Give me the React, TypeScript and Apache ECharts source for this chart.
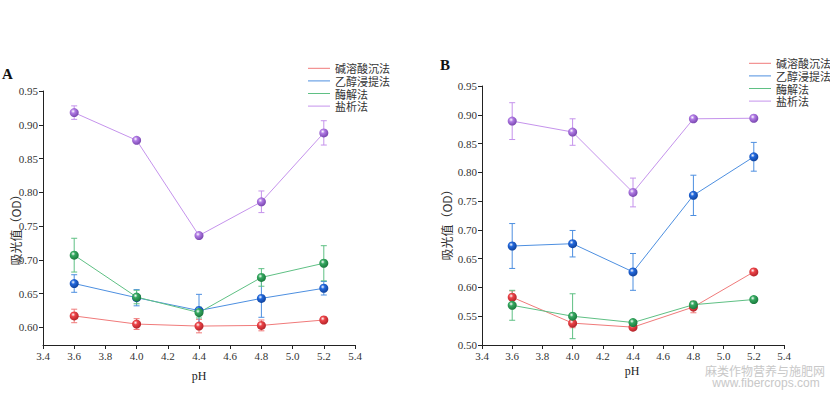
import React, { useEffect, useRef } from "react";
import * as echarts from "echarts";

const phValues = [3.6, 4.0, 4.4, 4.8, 5.2];
const seriesNames = ["碱溶酸沉法", "乙醇浸提法", "酶解法", "盐析法"];
const yTicksA = [0.6, 0.65, 0.7, 0.75, 0.8, 0.85, 0.9, 0.95];
const yTicksB = [0.5, 0.55, 0.6, 0.65, 0.7, 0.75, 0.8, 0.85, 0.9, 0.95];

// Panel A
const aAlkali = [0.617, 0.605, 0.602, 0.603, 0.611];
const aAlkaliErr = [0.01, 0.008, 0.01, 0.008, 0.004];
const aEthanol = [0.665, 0.644, 0.625, 0.643, 0.658];
const aEthanolErr = [0.013, 0.012, 0.024, 0.028, 0.01];
const aEnzyme = [0.707, 0.645, 0.622, 0.674, 0.695];
const aEnzymeErr = [0.025, 0.01, 0.008, 0.013, 0.026];
const aSalt = [0.918, 0.877, 0.736, 0.786, 0.888];
const aSaltErr = [0.01, 0.003, 0.003, 0.016, 0.018];

// Panel B
const bAlkali = [0.583, 0.538, 0.531, 0.566, 0.627];
const bAlkaliErr = [0.011, 0.008, 0.004, 0.01, 0.003];
const bEthanol = [0.672, 0.676, 0.627, 0.76, 0.827];
const bEthanolErr = [0.039, 0.023, 0.032, 0.035, 0.025];
const bEnzyme = [0.569, 0.55, 0.539, 0.57, 0.579];
const bEnzymeErr = [0.026, 0.039, 0.003, 0.005, 0.005];
const bSalt = [0.889, 0.87, 0.765, 0.893, 0.894];
const bSaltErr = [0.032, 0.023, 0.025, 0.002, 0.002];

const markerColors = ["#ec4448", "#2268dc", "#35a860", "#b07ae4"];
const darkColors = ["#b5242a", "#11449e", "#1c7a3e", "#7a48b0"];
const lineColors = ["#f07a7a", "#4d8fe0", "#5fc084", "#c593ec"];

const FONT = "'Liberation Serif', 'Times New Roman', serif";
const CJK = "'Noto Sans CJK SC', sans-serif";

function sphere(i: number) {
  return {
    type: "radial",
    x: 0.38,
    y: 0.35,
    r: 0.65,
    colorStops: [
      { offset: 0, color: "#ffffff" },
      { offset: 0.35, color: markerColors[i] },
      { offset: 1, color: darkColors[i] },
    ],
  };
}

export default function App() {
  const ref = useRef<HTMLDivElement>(null);
  useEffect(() => {
    if (!ref.current) return;
    const chart = echarts.init(ref.current, null, { renderer: "svg" });
    const panels = [
      { vals: [aAlkali, aEthanol, aEnzyme, aSalt], errs: [aAlkaliErr, aEthanolErr, aEnzymeErr, aSaltErr] },
      { vals: [bAlkali, bEthanol, bEnzyme, bSalt], errs: [bAlkaliErr, bEthanolErr, bEnzymeErr, bSaltErr] },
    ];
    const series: any[] = [];
    panels.forEach((p, gi) => {
      p.vals.forEach((vals, si) => {
        const errs = p.errs[si];
        series.push({
          type: "custom",
          xAxisIndex: gi,
          yAxisIndex: gi,
          z: 1,
          silent: true,
          data: phValues.map((x, k) => [x, vals[k] - errs[k], vals[k] + errs[k]]),
          renderItem: (params: any, api: any) => {
            const x = api.value(0);
            const lo = api.coord([x, api.value(1)]);
            const hi = api.coord([x, api.value(2)]);
            const c = lineColors[si];
            const w = 3;
            return {
              type: "group",
              children: [
                { type: "line", shape: { x1: lo[0], y1: lo[1], x2: hi[0], y2: hi[1] }, style: { stroke: c, lineWidth: 1 } },
                { type: "line", shape: { x1: lo[0] - w, y1: lo[1], x2: lo[0] + w, y2: lo[1] }, style: { stroke: c, lineWidth: 1 } },
                { type: "line", shape: { x1: hi[0] - w, y1: hi[1], x2: hi[0] + w, y2: hi[1] }, style: { stroke: c, lineWidth: 1 } },
              ],
            };
          },
        });
        series.push({
          type: "line",
          name: seriesNames[si],
          xAxisIndex: gi,
          yAxisIndex: gi,
          z: 3,
          data: phValues.map((x, k) => [x, vals[k]]),
          symbol: "circle",
          symbolSize: 9,
          showSymbol: true,
          color: lineColors[si],
          lineStyle: { color: lineColors[si], width: 1 },
          itemStyle: { color: sphere(si) },
        });
      });
    });

    const xAxisBase = {
      type: "value",
      min: 3.4,
      max: 5.4,
      interval: 0.2,
      axisLine: { lineStyle: { color: "#222", width: 1 } },
      axisTick: { show: true, length: 4, lineStyle: { color: "#222" } },
      axisLabel: { fontFamily: FONT, fontSize: 11, color: "#333", margin: 5, formatter: (v: number) => v.toFixed(1) },
      splitLine: { show: false },
    };
    const yAxisStyle = {
      type: "value",
      axisLine: { show: true, lineStyle: { color: "#222", width: 1 } },
      splitLine: { show: false },
    };

    const legendData = seriesNames.map((n, i) => ({ name: n, icon: "rect", itemStyle: { color: lineColors[i], borderWidth: 0 } }));
    const legendBase = {
      orient: "vertical",
      data: legendData,
      itemWidth: 22,
      itemHeight: 1,
      itemGap: 0,
      selectedMode: false,
      textStyle: { fontFamily: CJK, fontSize: 11, lineHeight: 12.6, color: "#333" },
    };

    chart.setOption({
      animation: false,
      backgroundColor: "#ffffff",
      grid: [
        { left: 43, top: 91, width: 312, height: 254 },
        { left: 482, top: 86, width: 302, height: 259 },
      ],
      xAxis: [
        { ...xAxisBase, gridIndex: 0 },
        { ...xAxisBase, gridIndex: 1 },
      ],
      yAxis: [
        {
          ...yAxisStyle,
          gridIndex: 0,
          min: 0.574,
          max: 0.95,
          axisTick: { show: true, length: 4, customValues: yTicksA, lineStyle: { color: "#222" } },
          axisLabel: { fontFamily: FONT, fontSize: 11, color: "#333", margin: 5, customValues: yTicksA, formatter: (v: number) => v.toFixed(2) },
        },
        {
          ...yAxisStyle,
          gridIndex: 1,
          min: 0.5,
          max: 0.95,
          axisTick: { show: true, length: 4, customValues: yTicksB, lineStyle: { color: "#222" } },
          axisLabel: { fontFamily: FONT, fontSize: 11, color: "#333", margin: 5, customValues: yTicksB, formatter: (v: number) => v.toFixed(2) },
        },
      ],
      legend: [
        { ...legendBase, left: 303, top: 57 },
        { ...legendBase, left: 744, top: 52 },
      ],
      graphic: [
        { type: "text", left: 2, top: 66, style: { text: "A", font: `bold 15px ${FONT}`, fill: "#111" } },
        { type: "text", left: 440, top: 57, style: { text: "B", font: `bold 15px ${FONT}`, fill: "#111" } },
        { type: "text", x: 15, y: 227, rotation: Math.PI / 2, style: { text: "吸光值（OD）", font: `12px ${CJK}`, fill: "#333", align: "center", verticalAlign: "middle" } },
        { type: "text", x: 446, y: 222, rotation: Math.PI / 2, style: { text: "吸光值（OD）", font: `12px ${CJK}`, fill: "#333", align: "center", verticalAlign: "middle" } },
        { type: "text", x: 199, y: 376, style: { text: "pH", font: `12px ${FONT}`, fill: "#222", align: "center", verticalAlign: "middle" } },
        { type: "text", x: 632, y: 371, style: { text: "pH", font: `12px ${FONT}`, fill: "#222", align: "center", verticalAlign: "middle" } },
        { type: "text", x: 765, y: 370, style: { text: "麻类作物营养与施肥网", font: `12px ${CJK}`, fill: "#c8c8c8", align: "center", verticalAlign: "middle" } },
        { type: "text", x: 766, y: 383, style: { text: "www.fibercrops.com", font: "12px 'Liberation Sans', sans-serif", fill: "#c8c8c8", align: "center", verticalAlign: "middle" } },
      ],
      series,
    });
    return () => chart.dispose();
  }, []);
  return <div ref={ref} style={{ position: "fixed", left: 0, top: 0, width: 830, height: 396 }} />;
}
